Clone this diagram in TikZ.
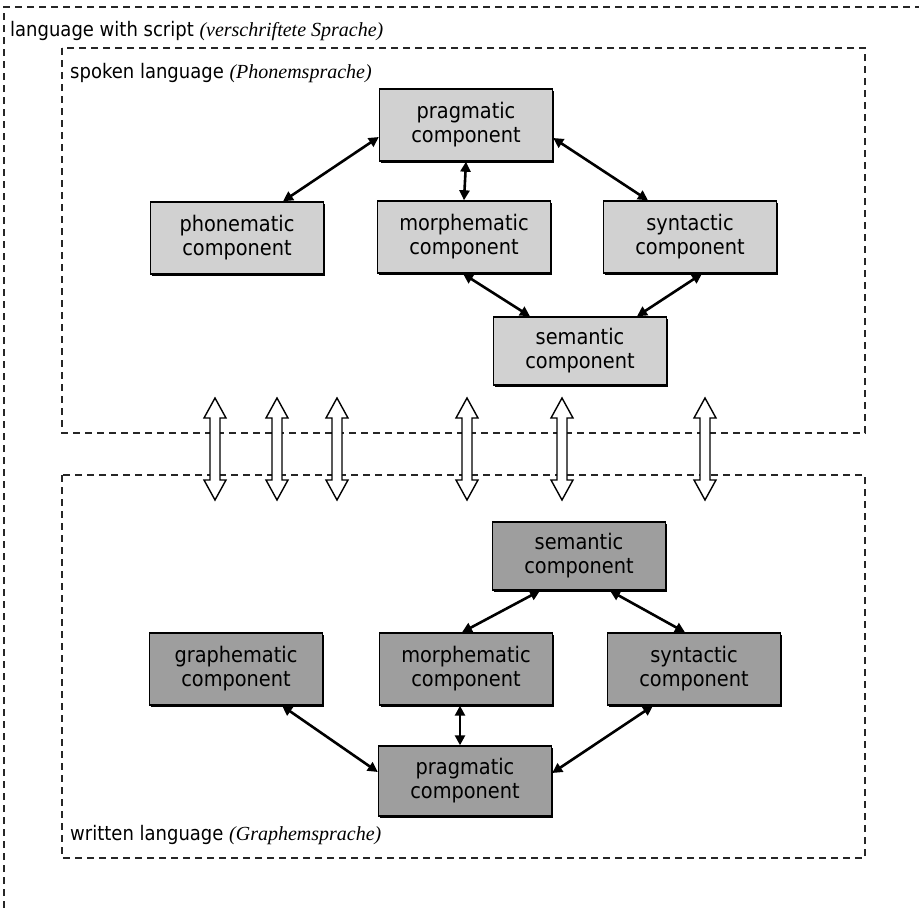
\documentclass[tikz,border=0pt]{standalone}
\usepackage{fontspec}
\newfontfamily\boxfont[FakeStretch=0.9]{DejaVu Sans}
\newfontfamily\labit{Liberation Serif}
\usetikzlibrary{arrows.meta,shadows}
\begin{document}
\begin{tikzpicture}[x=1pt,y=-1pt,
  comp/.style={draw=black, line width=1.4pt, inner sep=0pt, align=center,
    minimum width=173pt, minimum height=72pt,
    font=\boxfont\fontsize{21.5}{24}\selectfont,
    drop shadow={shadow xshift=1.8pt, shadow yshift=-1.8pt, opacity=1, fill=black}},
  lightbox/.style={comp, fill=black!18},
  darkbox/.style={comp, fill=black!38},
  conn/.style={line width=2.6pt, {Triangle[length=10pt,width=10pt]}-{Triangle[length=10pt,width=10pt]}},
  frame/.style={line width=1.1pt, dash pattern=on 7pt off 5pt, black!85},
  lab/.style={anchor=base west, inner sep=0pt, font=\boxfont\fontsize{20}{24}\selectfont},
  hollow/.pic={\draw[line width=1.4pt, fill=white] (0,-51) -- (11,-31) -- (5,-31) -- (5,31) -- (11,31) -- (0,51) -- (-11,31) -- (-5,31) -- (-5,-31) -- (-11,-31) -- cycle;}
]
\useasboundingbox (0,0) rectangle (919,908);
% frames
\draw[frame] (4,908) -- (4,7) -- (919,7);
\draw[frame] (62,48) rectangle (865,433);
\draw[frame] (62,475) rectangle (865,858);
\node[lab] (louter) at (10,36) {language with script {\labit\itshape\fontsize{20}{24}\selectfont(verschriftete Sprache)}};
\node[lab] (lspoken) at (70,78) {spoken language {\labit\itshape\fontsize{20}{24}\selectfont(Phonemsprache)}};
\node[lab] (lwritten) at (70,840) {written language {\labit\itshape\fontsize{20}{24}\selectfont(Graphemsprache)}};
% top boxes
\node[lightbox] (tprag) at (466,125) {pragmatic\\component};
\node[lightbox] (tphon) at (237,238) {phonematic\\component};
\node[lightbox] (tmorph) at (464,237) {morphematic\\component};
\node[lightbox] (tsyn) at (690,237) {syntactic\\component};
\node[lightbox, minimum height=68pt] (tsem) at (580,351) {semantic\\component};
% bottom boxes
\node[darkbox, minimum height=68pt] (bsem) at (579,556) {semantic\\component};
\node[darkbox] (bgraph) at (236,669) {graphematic\\component};
\node[darkbox] (bmorph) at (466,669) {morphematic\\component};
\node[darkbox] (bsyn) at (694,669) {syntactic\\component};
\node[darkbox, minimum height=70pt] (bprag) at (465,781) {pragmatic\\component};
% top connectors
\draw[conn] ([yshift=-12pt]tprag.west) -- ([xshift=46pt]tphon.north);
\draw[conn] (tprag.south) -- (tmorph.north);
\draw[conn] ([yshift=-13pt]tprag.east) -- ([xshift=-42pt]tsyn.north);
\draw[conn] ([xshift=-1pt]tmorph.south) -- ([xshift=-50pt]tsem.north);
\draw[conn] ([xshift=12pt]tsyn.south) -- ([xshift=57pt]tsem.north);
% bottom connectors
\draw[conn] ([xshift=-39pt]bsem.south) -- ([xshift=-4pt]bmorph.north);
\draw[conn] ([xshift=31pt]bsem.south) -- ([xshift=-9pt]bsyn.north);
\draw[conn] ([xshift=-6pt]bmorph.south) -- ([xshift=-5pt]bprag.north);
\draw[conn] ([xshift=46pt]bgraph.south) -- ([yshift=9pt]bprag.west);
\draw[conn] ([xshift=-41pt]bsyn.south) -- ([yshift=8pt]bprag.east);
% hollow double arrows
\foreach \hx in {215,277,337,467,562,705} {
  \pic at (\hx,449) {hollow};
}
\end{tikzpicture}
\end{document}
